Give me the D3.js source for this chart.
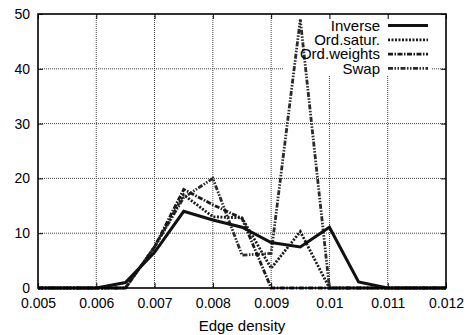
<!DOCTYPE html>
<html>
<head>
<meta charset="utf-8">
<title>Edge density</title>
<script src="https://d3js.org/d3.v7.min.js"></script>
<style>
  body { margin: 0; background: #fff; }
  text { font-family: "Liberation Sans", Arial, sans-serif; fill: #000; }
</style>
</head>
<body>
<script>
// data
var density = [0.005, 0.0055, 0.006, 0.0065, 0.007, 0.0075, 0.008, 0.0085, 0.009, 0.0095, 0.01, 0.0105, 0.011, 0.0115, 0.012];
var inverse    = [0, 0, 0, 1, 6.5, 14, 12.4, 11.1, 8.3, 7.5, 11.1, 1.1, 0, 0, 0];
var ordSatur   = [0, 0, 0, 0, 7.5, 17, 13, 12.8, 3.6, 10.3, 0, 0, 0, 0, 0];
var ordWeights = [0, 0, 0, 0, 7.5, 18, 15.2, 12.7, 0, 0, 0, 0, 0, 0, 0];
var swap       = [0, 0, 0, 0, 7.5, 16.5, 20, 6, 6.3, 49, 0, 0, 0, 0, 0];
var xTicks = [0.005, 0.006, 0.007, 0.008, 0.009, 0.01, 0.011, 0.012];
var yTicks = [0, 10, 20, 30, 40, 50];

var series = [
  { name: "Inverse",     values: inverse,    width: 3,   dash: null,              color: "#111" },
  { name: "Ord.satur.",  values: ordSatur,   width: 2.8, dash: "2,1.5",           color: "#1a1a1a" },
  { name: "Ord.weights", values: ordWeights, width: 2.8, dash: "5,1.5,1.5,1.5",   color: "#1a1a1a" },
  { name: "Swap",        values: swap,       width: 2.8, dash: "5,1.5,1.5,1.5,1.5,1.5", color: "#2a2a2a" }
];

var W = 467, H = 335;
var margin = { top: 14, right: 21, bottom: 47, left: 38 };
var width = W - margin.left - margin.right,
    height = H - margin.top - margin.bottom;

var svg = d3.select("body").append("svg")
  .attr("width", W).attr("height", H);
var g = svg.append("g")
  .attr("transform", "translate(" + margin.left + "," + margin.top + ")");

var x = d3.scaleLinear().domain([0.005, 0.012]).range([0, width]);
var y = d3.scaleLinear().domain([0, 50]).range([height, 0]);

// grid
g.selectAll(".gx").data(xTicks.slice(1, -1)).enter().append("line")
  .attr("x1", function(d){ return x(d); }).attr("x2", function(d){ return x(d); })
  .attr("y1", 0).attr("y2", height)
  .attr("stroke", "#444").attr("stroke-width", 1).attr("stroke-dasharray", "1,1");
g.selectAll(".gy").data(yTicks.slice(1, -1)).enter().append("line")
  .attr("x1", 0).attr("x2", width)
  .attr("y1", function(d){ return y(d); }).attr("y2", function(d){ return y(d); })
  .attr("stroke", "#444").attr("stroke-width", 1).attr("stroke-dasharray", "1,1");

// legend background covers the grid
g.append("rect")
  .attr("x", 246).attr("y", 1).attr("width", 148).attr("height", 61)
  .attr("fill", "#fff");

// axes
var xAxis = d3.axisBottom(x).tickValues(xTicks).tickSize(-5).tickPadding(10)
  .tickFormat(function(d){ return String(+d.toFixed(3)); });
var gx = g.append("g").attr("transform", "translate(0," + height + ")").call(xAxis);
gx.select(".domain").remove();
gx.selectAll("text").attr("font-size", "14px").attr("font-family", "Liberation Sans, Arial, sans-serif");
gx.selectAll("line").attr("stroke", "#000");

var yAxis = d3.axisLeft(y).tickValues(yTicks).tickSize(-5).tickPadding(8);
var gy = g.append("g").call(yAxis);
gy.select(".domain").remove();
gy.selectAll("text").attr("font-size", "14px").attr("font-family", "Liberation Sans, Arial, sans-serif");
gy.selectAll("line").attr("stroke", "#000");

// mirrored ticks on top and right
var gxt = g.append("g").call(d3.axisTop(x).tickValues(xTicks).tickSize(-5).tickFormat(""));
gxt.select(".domain").remove();
var gyr = g.append("g").attr("transform", "translate(" + width + ",0)")
  .call(d3.axisRight(y).tickValues(yTicks).tickSize(-5).tickFormat(""));
gyr.select(".domain").remove();

// lines
var line = d3.line()
  .x(function(d, i){ return x(density[i]); })
  .y(function(d){ return y(d); });

g.selectAll(".series").data(series.slice().reverse()).enter().append("path")
  .attr("d", function(s){ return line(s.values); })
  .attr("fill", "none")
  .attr("stroke", function(s){ return s.color; })
  .attr("stroke-width", function(s){ return s.width; })
  .attr("stroke-dasharray", function(s){ return s.dash; })
  .attr("stroke-linejoin", "miter");

// frame
g.append("rect")
  .attr("x", 0).attr("y", 0).attr("width", width).attr("height", height)
  .attr("fill", "none").attr("stroke", "#000").attr("stroke-width", 1.6);

// legend
var leg = g.selectAll(".leg").data(series).enter().append("g")
  .attr("transform", function(s, i){ return "translate(0," + (11.5 + i * 14.3) + ")"; });
leg.append("text")
  .attr("x", 342).attr("y", 0).attr("dy", "0.35em")
  .attr("text-anchor", "end").attr("font-size", "15px")
  .text(function(s){ return s.name; });
leg.append("line")
  .attr("x1", 350).attr("x2", 390).attr("y1", 0).attr("y2", 0)
  .attr("stroke", function(s){ return s.color; })
  .attr("stroke-width", function(s){ return s.width; })
  .attr("stroke-dasharray", function(s){ return s.dash; });

// axis title
svg.append("text")
  .attr("x", margin.left + width / 2).attr("y", 331)
  .attr("text-anchor", "middle").attr("font-size", "15px")
  .text("Edge density");
</script>
</body>
</html>
